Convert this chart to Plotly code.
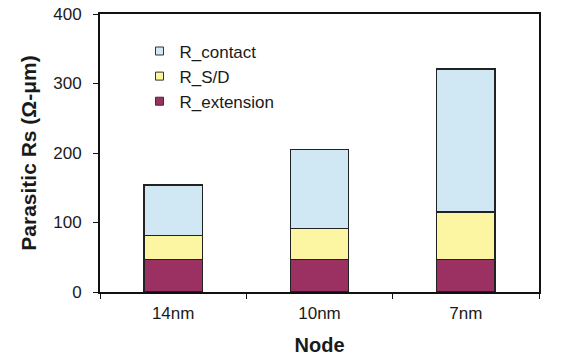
import plotly.graph_objects as go

nodes = ["14nm", "10nm", "7nm"]
r_extension = [47, 47, 47]
r_sd = [34, 44, 68]
r_contact = [73, 114, 206]
y_ticks = [0, 100, 200, 300, 400]

colors = {"R_extension": "#9B3163", "R_S/D": "#FCF5A2", "R_contact": "#CFE8F3"}

fig = go.Figure()
line = dict(color="#222222", width=1.3)
for name, vals in [("R_extension", r_extension), ("R_S/D", r_sd), ("R_contact", r_contact)]:
    fig.add_bar(x=nodes, y=vals, name=name, showlegend=False,
                marker=dict(color=colors[name], line=line), width=0.4)

# legend entries with small square swatches
for name in ["R_contact", "R_S/D", "R_extension"]:
    fig.add_scatter(x=[None], y=[None], mode="markers", name=name, legendgroup=name,
                    marker=dict(symbol="square", size=8, color=colors[name],
                                line=dict(color="#333333", width=1)))

font = "Liberation Sans, Arial, sans-serif"
fig.update_layout(
    width=580, height=359,
    margin=dict(l=100, r=41, t=14, b=67),
    barmode="stack",
    plot_bgcolor="white", paper_bgcolor="white",
    font=dict(family=font, color="#1a1a1a", size=17),
    showlegend=True,
    legend=dict(x=0.09, y=0.93, xanchor="left", yanchor="top",
                traceorder="normal", tracegroupgap=3,
                font=dict(size=17), bgcolor="rgba(0,0,0,0)",
                itemwidth=30),
    xaxis=dict(showline=True, linecolor="#111111", linewidth=2, mirror=True,
               ticks="outside", tickson="boundaries", ticklen=5, tickcolor="#111111",
               automargin=False, ticklabelstandoff=5,
               title=dict(text="<b>Node</b>", font=dict(size=20), standoff=16)),
    yaxis=dict(range=[0, 400], tickvals=y_ticks, showline=True, linecolor="#111111",
               linewidth=2, mirror=True, ticks="outside", ticklen=5, tickcolor="#111111",
               showgrid=False, zeroline=False, automargin=False, ticklabelstandoff=8,
               title=dict(text="<b>Parasitic Rs (Ω-μm)</b>", font=dict(size=21), standoff=11)),
)
fig.write_html("out.html", config={"displayModeBar": False},
               post_script="document.body.style.margin='0';")
